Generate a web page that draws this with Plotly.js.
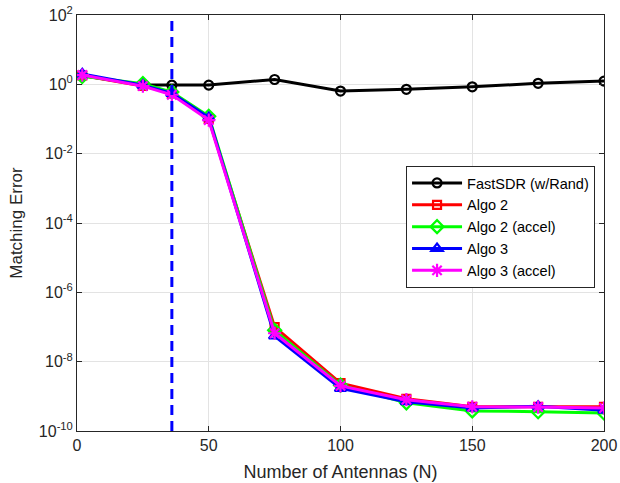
<!DOCTYPE html>
<html>
<head>
<meta charset="utf-8">
<script src="https://cdn.plot.ly/plotly-3.0.1.min.js"></script>
<style>
  html, body { margin: 0; padding: 0; background: #ffffff; }
  #chart { width: 620px; height: 483px; }
</style>
</head>
<body>
<div id="chart"></div>
<script>
// Number of antennas N
const antennas = [2, 25, 36, 50, 75, 100, 125, 150, 175, 200];

// Matching error for each method
const fastSdr   = [1.8, 0.95, 0.95, 0.95, 1.38, 0.64, 0.72, 0.85, 1.07, 1.24];
const algo2     = [1.8, 0.9, 0.55, 0.1, 1.0e-7, 2.4e-9, 8.5e-10, 5.0e-10, 5.0e-10, 5.0e-10];
const algo2Acc  = [1.7, 1.05, 0.6, 0.12, 8.0e-8, 2.1e-9, 6.5e-10, 3.8e-10, 3.6e-10, 3.3e-10];
const algo3     = [2.0, 0.95, 0.55, 0.11, 5.5e-8, 1.7e-9, 7.0e-10, 4.6e-10, 5.2e-10, 4.0e-10];
const algo3Acc  = [1.85, 0.89, 0.5, 0.093, 6.6e-8, 2.0e-9, 8.0e-10, 5.0e-10, 4.9e-10, 4.6e-10];

// Vertical reference at N = 36
const markerN = 36;

// Axis ticks
const xTicks = [0, 50, 100, 150, 200];
const yTickVals = [1e-10, 1e-8, 1e-6, 1e-4, 1e-2, 1, 1e2];
const yTickText = ['10<sup>-10</sup>', '10<sup>-8</sup>', '10<sup>-6</sup>', '10<sup>-4</sup>',
                   '10<sup>-2</sup>', '10<sup>0</sup>', '10<sup>2</sup>'];

const names = ['FastSDR (w/Rand)', 'Algo 2', 'Algo 2 (accel)', 'Algo 3', 'Algo 3 (accel)'];
const series = [fastSdr, algo2, algo2Acc, algo3, algo3Acc];
const colors = ['#000000', '#ff0000', '#00ff00', '#0000ff', '#ff00ff'];
const symbols = ['circle-open', 'square-open', 'diamond-open', 'triangle-up-open', 'asterisk-open'];
const sizes = [9, 8, 10, 10, 11];

const traces = series.map((ys, i) => ({
  x: antennas,
  y: ys,
  name: names[i],
  type: 'scatter',
  mode: 'lines+markers',
  line: { color: colors[i], width: 3 },
  marker: { symbol: symbols[i], size: sizes[i], color: colors[i],
            line: { color: colors[i], width: 2.2 } }
}));

const font = 'Liberation Sans, Arial, sans-serif';
const axisCommon = {
  showline: true, linecolor: '#262626', linewidth: 1,
  mirror: 'ticks', ticks: 'inside', ticklen: 5, tickcolor: '#262626',
  showgrid: true, gridcolor: '#e3e3e3', gridwidth: 1,
  zeroline: false,
  tickfont: { family: font, size: 16, color: '#262626' }
};

const layout = {
  width: 620, height: 483,
  margin: { l: 77, r: 16, t: 15, b: 52 },
  paper_bgcolor: '#ffffff', plot_bgcolor: '#ffffff',
  showlegend: true,
  xaxis: Object.assign({}, axisCommon, {
    range: [0, 200], tickmode: 'array', tickvals: xTicks,
    title: { text: 'Number of Antennas (N)', standoff: 12,
             font: { family: font, size: 18, color: '#262626' } }
  }),
  yaxis: Object.assign({}, axisCommon, {
    type: 'log', range: [-10, 2], tickmode: 'array',
    tickvals: yTickVals, ticktext: yTickText,
    title: { text: 'Matching Error', standoff: 11,
             font: { family: font, size: 17, color: '#262626' } }
  }),
  legend: {
    x: 0.983, y: 0.637, xanchor: 'right', yanchor: 'top',
    bgcolor: '#ffffff', bordercolor: '#262626', borderwidth: 1,
    font: { family: font, size: 14.5, color: '#000000' },
    itemwidth: 50, tracegroupgap: 0
  },
  shapes: [{
    type: 'line', xref: 'x', yref: 'paper',
    x0: markerN, x1: markerN, y0: 0, y1: 1,
    line: { color: '#0000ff', width: 3, dash: '10px,6px' }
  }]
};

Plotly.newPlot('chart', traces, layout, { displayModeBar: false, staticPlot: true });
</script>
</body>
</html>
